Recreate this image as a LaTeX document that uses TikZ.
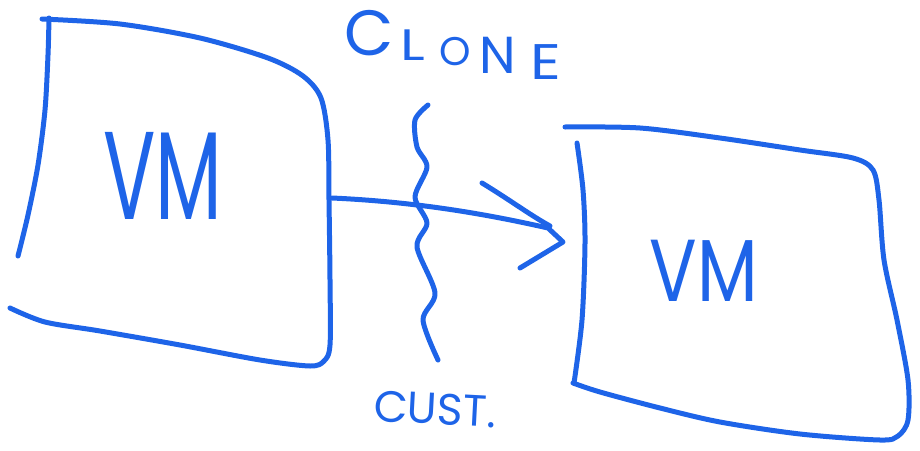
\documentclass[tikz,border=0pt]{standalone}
\usepackage{fontspec}
\newfontfamily\hand{Poppins}
\definecolor{pen}{RGB}{30,100,232}
\newcommand{\hsz}[1]{\hand\fontsize{#1}{#1}\selectfont}
\begin{document}
\begin{tikzpicture}[x=1pt,y=-1pt,
  ink/.style={draw=pen,line width=5pt,line cap=round,line join=round},
  lbl/.style={text=pen,inner sep=0pt,font=\hand}]
\useasboundingbox (0,0) rectangle (920,450);
% left box
\draw[ink] plot[smooth] coordinates {(18,256) (28,215) (38,165) (45,110) (48,55) (49,18)};
\draw[ink] plot[smooth] coordinates {(42,19) (120,24) (200,38) (268,58) (303,76) (321,98) (328,140) (329,200) (330,280) (330,345) (324,361) (310,366) (260,360) (180,345) (100,331) (45,322) (10,308)};
% right box
\draw[ink] plot[smooth] coordinates {(565,127) (640,128) (720,138) (800,150) (853,158) (873,170) (879,200) (884,260) (897,320) (908,380) (908,420) (898,436) (880,440) (800,434) (720,422) (660,408) (600,392) (573,383)};
\draw[ink] plot[smooth] coordinates {(577,143) (583,190) (585,243) (582,320) (574,383)};
% labels
\node[lbl,font=\hsz{125},xscale=0.62] (vm1) at (163,176) {VM};
\node[lbl,font=\hsz{88},xscale=0.8] (vm2) at (704,271) {VM};
% CLONE, written letter by letter along a falling line
\node[lbl,font=\hsz{64}] (cl1) at (369,33) {C};
\node[lbl,font=\hsz{44},xscale=1.3] (cl2) at (413,45) {L};
\node[lbl,font=\hsz{40}] (cl3) at (455,52) {O};
\node[lbl,font=\hsz{52}] (cl4) at (498,55) {N};
\node[lbl,font=\hsz{50},xscale=1.2] (cl5) at (546,62) {E};
\node[lbl,font=\hsz{44},rotate=-3] (cust) at (435,409) {CUST.};
% wavy boundary
\draw[ink] plot[smooth] coordinates {(428,105) (415,120) (417,147) (427,167) (415,197) (427,223) (417,247) (435,293) (423,320) (438,360)};
% arrow
\coordinate (from) at (332,198);
\coordinate (tip) at (563,242);
\coordinate (b1) at (482,183);
\coordinate (b2) at (520,268);
\draw[ink] (from) .. controls (420,202) and (490,215) .. (548,228) -- (tip) -- (b2);
\draw[ink] (b1) .. controls (510,200) and (530,215) .. (550,226);
\end{tikzpicture}
\end{document}
